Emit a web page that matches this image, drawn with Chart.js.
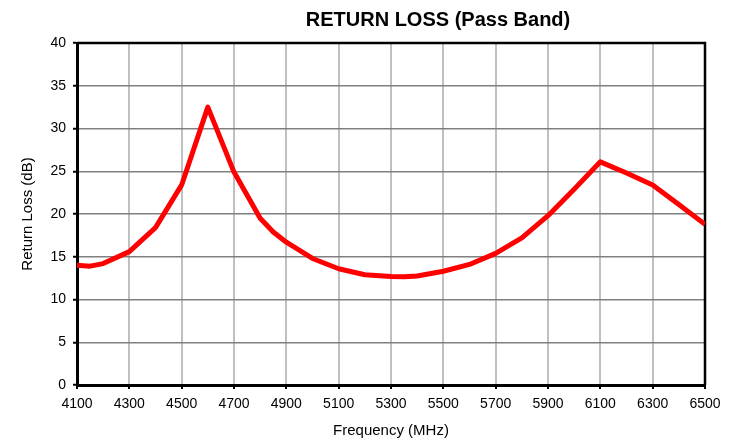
<!DOCTYPE html>
<html>
<head>
<meta charset="utf-8">
<script src="https://cdn.jsdelivr.net/npm/chart.js@4/dist/chart.umd.min.js"></script>
<style>
  html, body { margin: 0; padding: 0; background: #fff; }
  #wrap { width: 734px; height: 441px; }
</style>
</head>
<body>
<div id="wrap"><canvas id="c" width="734" height="441"></canvas></div>
<script>
// Data
const chartTitle = 'RETURN LOSS (Pass Band)';
const xTitle = 'Frequency (MHz)';
const yTitle = 'Return Loss (dB)';
const frequencyMHz = [4100, 4150, 4200, 4300, 4400, 4500, 4600, 4700, 4800, 4850, 4900, 5000, 5100, 5200, 5300, 5350, 5400, 5500, 5600, 5700, 5800, 5900, 6000, 6100, 6200, 6300, 6400, 6500];
const returnLossDb = [14.0, 13.9, 14.2, 15.6, 18.4, 23.4, 32.5, 24.9, 19.5, 17.9, 16.7, 14.8, 13.6, 12.9, 12.7, 12.65, 12.75, 13.3, 14.1, 15.4, 17.2, 19.8, 22.9, 26.1, 24.8, 23.4, 21.1, 18.8];
const xTicks = [4100, 4300, 4500, 4700, 4900, 5100, 5300, 5500, 5700, 5900, 6100, 6300, 6500];
const yTicks = [0, 5, 10, 15, 20, 25, 30, 35, 40];

const FONT = "'Liberation Sans', Arial, sans-serif";

const points = frequencyMHz.map((f, i) => ({ x: f, y: returnLossDb[i] }));

const frameAndTitle = {
  id: 'frameAndTitle',
  beforeDatasetsDraw(chart) {
    const { ctx, chartArea: a } = chart;
    ctx.save();
    ctx.strokeStyle = '#000';
    ctx.lineWidth = 2.5;
    ctx.beginPath();
    ctx.moveTo(a.left, a.top);
    ctx.lineTo(a.right, a.top);
    ctx.lineTo(a.right, a.bottom);
    ctx.stroke();
    ctx.restore();
  },
  afterDraw(chart) {
    const { ctx } = chart;
    ctx.save();
    ctx.fillStyle = '#000';
    ctx.font = "bold 20px " + FONT;
    ctx.textAlign = 'center';
    ctx.textBaseline = 'middle';
    ctx.fillText(chartTitle, 438, 20);
    ctx.restore();
  }
};

new Chart(document.getElementById('c'), {
  type: 'line',
  data: {
    datasets: [{
      data: points,
      borderColor: '#ff0000',
      borderWidth: 5,
      pointRadius: 0,
      tension: 0,
      fill: false,
      borderJoinStyle: 'round',
      borderCapStyle: 'butt'
    }]
  },
  options: {
    responsive: false,
    animation: false,
    devicePixelRatio: 1,
    layout: { padding: { left: 0, right: 29, top: 43, bottom: 0 } },
    plugins: { legend: { display: false }, tooltip: { enabled: false }, title: { display: false } },
    scales: {
      x: {
        type: 'linear',
        min: 4100, max: 6500,
        afterBuildTicks(scale) { scale.ticks = xTicks.map(v => ({ value: v })); },
        afterFit(scale) { scale.height = 56; },
        ticks: { color: '#000', font: { family: FONT, size: 14 }, padding: 7, maxRotation: 0, autoSkip: false,
                 callback: v => String(v) },
        grid: { color: '#c0c0c0', lineWidth: 2, drawTicks: true, tickLength: 4, tickColor: '#000', tickWidth: 2 },
        border: { color: '#000', width: 3 },
        title: { display: true, text: xTitle, color: '#000', font: { family: FONT, size: 15 }, padding: { top: 0, bottom: 1 } }
      },
      y: {
        min: 0, max: 40,
        afterBuildTicks(scale) { scale.ticks = yTicks.map(v => ({ value: v })); },
        afterFit(scale) { scale.width = 77; },
        ticks: { color: '#000', font: { family: FONT, size: 14 }, padding: 7, callback: v => String(v) },
        grid: { color: '#808080', lineWidth: 1.5, drawTicks: true, tickLength: 4, tickColor: '#000', tickWidth: 2 },
        border: { color: '#000', width: 3 },
        title: { display: true, text: yTitle, color: '#000', font: { family: FONT, size: 15 }, padding: { top: 19, bottom: 0 } }
      }
    }
  },
  plugins: [frameAndTitle]
});
</script>
</body>
</html>
